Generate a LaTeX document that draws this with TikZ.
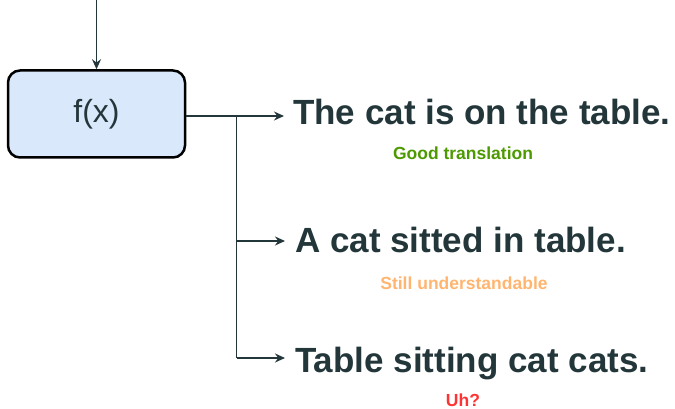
\documentclass[tikz,border=0pt]{standalone}
\usepackage{fontspec}
\setmainfont{Liberation Sans}
\usetikzlibrary{arrows.meta}
\definecolor{ink}{HTML}{23363A}
\definecolor{boxfill}{HTML}{DAE8FC}
\definecolor{goodc}{HTML}{4D9900}
\definecolor{okc}{HTML}{FFB570}
\definecolor{badc}{HTML}{FF3333}
\tikzset{
  conn/.style={draw=ink, line width=1.6pt, -{Stealth[length=10pt,width=9pt]}},
  wire/.style={draw=ink, line width=1.6pt},
  fbox/.style={draw=black, line width=2.5pt, fill=boxfill, rounded corners=12pt, minimum width=177pt, minimum height=87pt, inner sep=0pt, font=\fontsize{32}{36}\selectfont, text=ink},
  sent/.style={anchor=base west, inner sep=0pt, text=ink, font=\fontsize{35}{40}\selectfont\bfseries},
  verdict/.style={anchor=base, inner sep=0pt, font=\fontsize{17.5}{20}\selectfont\bfseries}
}
\begin{document}
\begin{tikzpicture}[x=1pt,y=-1pt]
\useasboundingbox (0,0) rectangle (675,409);
\node[fbox] (f) at (96.5,114) {f(x)};
\coordinate (s) at (96.5,0);
\coordinate (j) at (236.5,116);
\coordinate (k2) at (236.5,241);
\coordinate (k3) at (236.5,358);
\coordinate (e1) at (284,116);
\coordinate (e2) at (285,241);
\coordinate (e3) at (285,358);
\node[sent] (t1) at (293,125) {The cat is on the table.};
\node[sent] (t2) at (295,252.5) {A cat sitted in table.};
\node[sent] (t3) at (295,372.5) {Table sitting cat cats.};
\node[verdict, text=goodc] (v1) at (463,160) {Good translation};
\node[verdict, text=okc] (v2) at (464,289) {Still understandable};
\node[verdict, text=badc] (v3) at (463,406.5) {Uh?};
\draw[conn] (s) -- (f.north);
\draw[conn] (f.east |- j) -- (e1);
\draw[wire] (j) -- (k3);
\draw[conn] (k2) -- (e2);
\draw[conn] (k3) -- (e3);
\end{tikzpicture}
\end{document}
